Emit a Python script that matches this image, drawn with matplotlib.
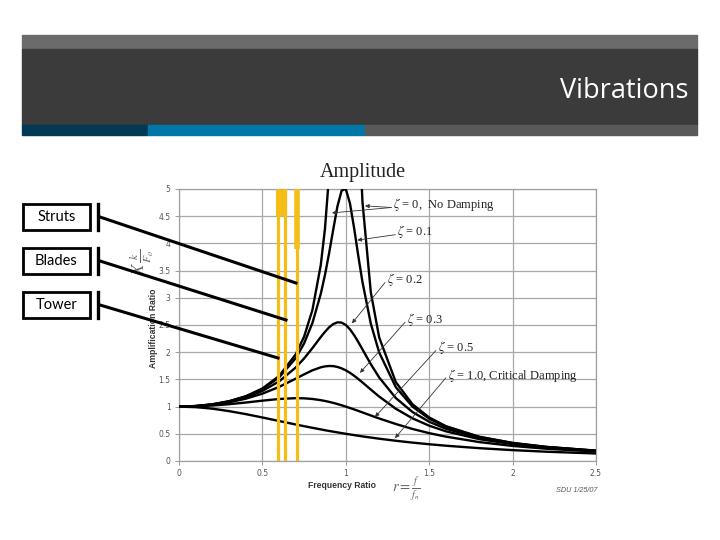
import matplotlib
matplotlib.use("Agg")
import matplotlib.pyplot as plt
from matplotlib.patches import Rectangle
from matplotlib.lines import Line2D
import numpy as np

plt.rcParams['mathtext.fontset'] = 'stix'

# ---------------- data ----------------
freq_ratio = [0.0, 0.1, 0.2, 0.3, 0.4, 0.5, 0.6, 0.7, 0.75, 0.8, 0.85, 0.875, 0.9, 0.925,
              0.95, 0.975, 1.0, 1.025, 1.05, 1.075, 1.1, 1.15, 1.2, 1.3, 1.4, 1.5, 1.6,
              1.8, 2.0, 2.2, 2.5]
amp_zeta_0 = [1.0, 1.010, 1.042, 1.099, 1.190, 1.333, 1.563, 1.961, 2.286, 2.778, 3.604,
              4.267, 5.263, 6.926, 10.26, 20.25, np.nan, 19.75, 9.756, 6.426, 4.762, 3.101,
              2.273, 1.449, 1.042, 0.800, 0.641, 0.446, 0.333, 0.260, 0.190]
amp_zeta_01 = [1.0, 1.010, 1.041, 1.097, 1.185, 1.322, 1.536, 1.891, 2.162, 2.538, 3.073,
               3.419, 3.821, 4.261, 4.683, 4.971, 5.0, 4.736, 4.279, 3.768, 3.288, 2.525,
               1.995, 1.356, 1.0, 0.778, 0.628, 0.441, 0.330, 0.259, 0.190]
amp_zeta_02 = [1.0, 1.009, 1.038, 1.090, 1.170, 1.288, 1.463, 1.719, 1.885, 2.076, 2.279,
               2.374, 2.457, 2.518, 2.549, 2.544, 2.5, 2.421, 2.313, 2.187, 2.051, 1.780,
               1.536, 1.157, 0.900, 0.721, 0.593, 0.425, 0.322, 0.254, 0.187]
amp_zeta_03 = [1.0, 1.008, 1.034, 1.078, 1.145, 1.238, 1.362, 1.514, 1.593, 1.667, 1.722,
               1.739, 1.747, 1.744, 1.729, 1.703, 1.667, 1.621, 1.567, 1.507, 1.444, 1.313,
               1.185, 0.960, 0.784, 0.649, 0.546, 0.402, 0.310, 0.246, 0.183]
amp_zeta_05 = [1.0, 1.005, 1.020, 1.044, 1.075, 1.109, 1.140, 1.155, 1.152, 1.140, 1.118,
               1.104, 1.087, 1.068, 1.047, 1.024, 1.0, 0.974, 0.948, 0.921, 0.893, 0.837,
               0.782, 0.680, 0.589, 0.512, 0.448, 0.348, 0.277, 0.226, 0.172]
amp_zeta_10 = [1.0, 0.990, 0.962, 0.917, 0.862, 0.800, 0.735, 0.671, 0.640, 0.610, 0.581,
               0.566, 0.552, 0.539, 0.526, 0.513, 0.5, 0.488, 0.476, 0.464, 0.452, 0.431,
               0.410, 0.372, 0.338, 0.308, 0.281, 0.236, 0.200, 0.171, 0.138]

# annotation labels: (text, text position (r, A), arrow tip (r, A))
zeta_labels = [r"$\zeta$ = 0,  No Damping", r"$\zeta$ = 0.1", r"$\zeta$ = 0.2",
               r"$\zeta$ = 0.3", r"$\zeta$ = 0.5", r"$\zeta$ = 1.0, Critical Damping"]
label_pos = [(1.283, 4.71), (1.307, 4.21), (1.245, 3.33), (1.365, 2.60), (1.55, 2.08), (1.61, 1.58)]
arrow_tips = [[(1.115, 4.69), (0.917, 4.56)], [(1.069, 4.06)], [(1.037, 2.53)],
              [(1.085, 1.62)], [(1.175, 0.81)], [(1.295, 0.42)]]

# component natural frequency ratios (yellow markers)
component_ratio = [0.594, 0.636, 0.706]
component_names = ["Struts", "Blades", "Tower"]

x_ticks = [0, 0.5, 1, 1.5, 2, 2.5]
x_tick_labels = ["0", "0.5", "1", "1.5", "2", "2.5"]
y_ticks = [0, 0.5, 1, 1.5, 2, 2.5, 3, 3.5, 4, 4.5, 5]
y_tick_labels = ["0", "0.5", "1", "1.5", "2", "2.5", "3", "3.5", "4", "4.5", "5"]

# ---------------- figure ----------------
W, H = 720, 540
fig = plt.figure(figsize=(7.2, 5.4), dpi=100)
fig.patch.set_facecolor("white")

def fx(px):
    return px / W

def fy(py):
    return 1 - py / H

# title bar
fig.patches.append(Rectangle((fx(22), fy(49)), fx(697) - fx(22), fy(35) - fy(49),
                             transform=fig.transFigure, color="#6b6b6b", zorder=0))
fig.patches.append(Rectangle((fx(22), fy(125)), fx(697) - fx(22), fy(49) - fy(125),
                             transform=fig.transFigure, color="#3b3b3b", zorder=0))
for x0, x1, c in [(22, 148, "#003a55"), (148, 365, "#0077a8"), (365, 697, "#595959")]:
    fig.patches.append(Rectangle((fx(x0), fy(135)), fx(x1) - fx(x0), fy(125) - fy(135),
                                 transform=fig.transFigure, color=c, zorder=0))
fig.text(fx(689), fy(88), "Vibrations", color="white", fontsize=19.5, family="Open Sans",
         ha="right", va="center_baseline")

# chart axes
ax = fig.add_axes([fx(179), fy(461), fx(596) - fx(179), fy(189) - fy(461)])
ax.set_xlim(0, 2.5)
ax.set_ylim(0, 5)
ax.set_xticks(x_ticks)
ax.set_xticklabels(x_tick_labels)
ax.set_yticks(y_ticks)
ax.set_yticklabels(y_tick_labels)
ax.tick_params(labelsize=5.5, labelcolor="#555555", color="#888888", length=3, width=0.6,
               pad=3)
ax.grid(True, color="#a8a8a8", linewidth=0.9)
ax.set_axisbelow(True)
for s in ax.spines.values():
    s.set_color("#a0a0a0")
    s.set_linewidth(0.9)

for amp in [amp_zeta_0, amp_zeta_01, amp_zeta_02, amp_zeta_03, amp_zeta_05, amp_zeta_10]:
    ax.plot(freq_ratio, amp, color="black", linewidth=1.7, zorder=3,
            solid_joinstyle="round", solid_capstyle="round")

for lbl, pos, tips in zip(zeta_labels, label_pos, arrow_tips):
    ax.text(pos[0], pos[1], lbl, fontsize=9, family="Liberation Serif", color="#222222",
            ha="left", va="center", zorder=5)
    for tip in tips:
        ax.annotate("", xy=tip, xytext=(pos[0] - 0.01, pos[1] - 0.05),
                    arrowprops=dict(arrowstyle="-|>", color="#333333", lw=0.6,
                                    mutation_scale=6, shrinkA=0, shrinkB=0), zorder=5)

# yellow component markers
for r in component_ratio:
    ax.axvline(r, color="#f4be16", linewidth=2.3, zorder=4)
ax.plot([0.612, 0.612], [4.5, 5.0], color="#f4be16", linewidth=8, zorder=4,
        solid_capstyle="butt")
ax.plot([0.706, 0.706], [3.9, 5.0], color="#f4be16", linewidth=4, zorder=4,
        solid_capstyle="butt")

# chart texts
fig.text(fx(363), fy(173), "Amplitude", fontsize=14.5, family="Liberation Serif",
         ha="center", va="center", color="#222222")
fig.text(fx(153), fy(328), "Amplification Ratio", fontsize=6.2, family="Liberation Sans",
         weight="bold", rotation=90, ha="center", va="center", color="#333333")
fig.text(fx(142), fy(262), r"$X\,\frac{k}{F_o}$", fontsize=12, rotation=90,
         ha="center", va="center", color="#666666")
fig.text(fx(342), fy(485), "Frequency Ratio", fontsize=6.2, family="Liberation Sans",
         weight="bold", ha="center", va="center", color="#333333")
fig.text(fx(406), fy(489), r"$r=\frac{f}{f_n}$", fontsize=10.5, ha="center", va="center",
         color="#666666")
fig.text(fx(577), fy(491), "SDU 1/25/07", fontsize=5.2, family="Liberation Sans",
         style="italic", ha="center", va="center", color="#555555")

# component label boxes and leader lines
box_tops = [204, 248, 292]
line_ends = [(296, 283), (286, 320), (278, 358)]
for name, top, end in zip(component_names, box_tops, line_ends):
    fig.patches.append(Rectangle((fx(23), fy(top + 26)), fx(90) - fx(23), fy(top) - fy(top + 26),
                                 transform=fig.transFigure, facecolor="white",
                                 edgecolor="black", linewidth=2, zorder=5))
    fig.text(fx(56.5), fy(top + 13), name, fontsize=10.5, family="Lato", ha="center",
             va="center", color="black", zorder=6)
    fig.add_artist(Line2D([fx(98), fx(98)], [fy(top), fy(top + 26)], color="black",
                          linewidth=2.4, transform=fig.transFigure, zorder=6))
    fig.add_artist(Line2D([fx(100), fx(end[0])], [fy(top + 13), fy(end[1])], color="black",
                          linewidth=2.2, transform=fig.transFigure, zorder=6))

fig.savefig("out.png", dpi=100, facecolor="white")
